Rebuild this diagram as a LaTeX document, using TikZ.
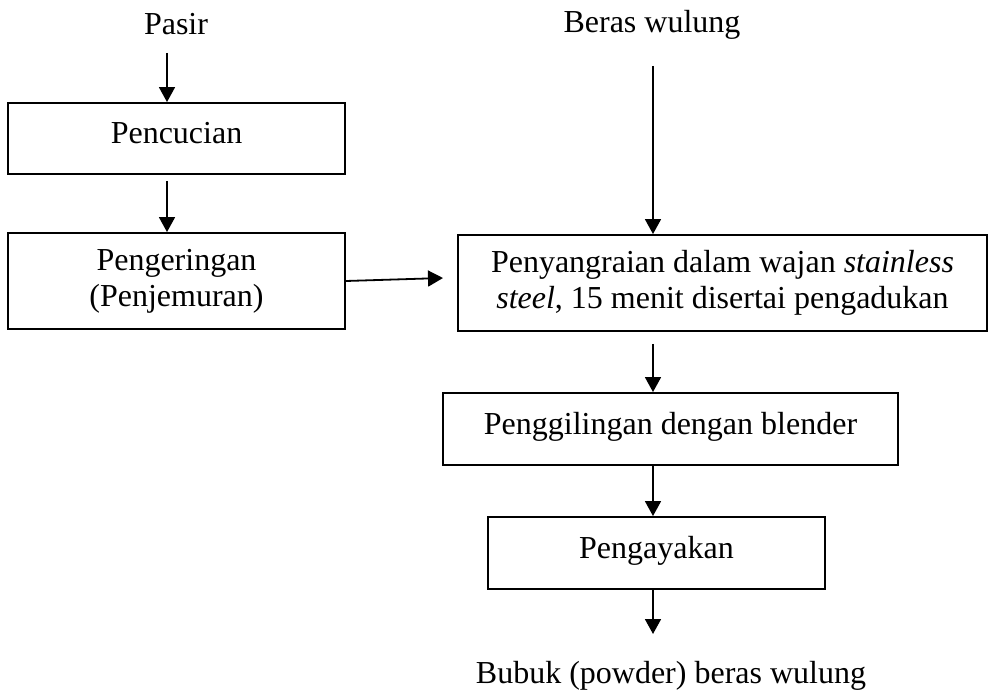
\documentclass[tikz,border=0pt]{standalone}
\usepackage{fontspec}
\setmainfont{Liberation Serif}
\usetikzlibrary{arrows.meta}
\begin{document}
\begin{tikzpicture}[x=1pt,y=-1pt,
  box/.style={draw=black,line width=1.9pt,rectangle,align=center,inner sep=0pt,
    font=\fontsize{32}{36}\selectfont},
  onebox/.style={box,text height=22pt,text depth=12pt},
  lbl/.style={anchor=base,inner sep=0pt,font=\fontsize{32}{36}\selectfont},
  arr/.style={line width=1.8pt,-{Triangle[length=15pt,width=16pt]}}]
\fill[white] (0,0) rectangle (989,695);
\useasboundingbox (0,0) rectangle (989,695);
% labels
\node[lbl] (pasir) at (176,35) {Pasir};
\node[lbl] (beras) at (652,33) {Beras wulung};
\node[lbl] (bubuk) at (671,683) {Bubuk (powder) beras wulung};
% boxes
\node[onebox,minimum width=337pt,minimum height=71pt] (cuci) at (176.5,138.5) {Pencucian};
\node[box,minimum width=337pt,minimum height=96pt] (kering) at (176.5,281) {Pengeringan\\(Penjemuran)};
\node[box,minimum width=529pt,minimum height=96pt] (sangrai) at (722.5,283) {Penyangraian dalam wajan \textit{stainless}\\\textit{steel}, 15 menit disertai pengadukan};
\node[onebox,minimum width=455pt,minimum height=72pt] (giling) at (670.5,429) {Penggilingan dengan blender};
\node[onebox,minimum width=337pt,minimum height=72pt] (ayak) at (656.5,553) {Pengayakan};
% arrow anchors
\coordinate (a1) at (167,53);
\coordinate (a2) at (167,181);
\coordinate (a3) at (443,278);
\coordinate (a4) at (653,66);
\coordinate (a5) at (653,344);
\coordinate (a6) at (653,634);
% arrows
\draw[arr] (a1) -- (a1 |- cuci.north);
\draw[arr] (a2) -- (a2 |- kering.north);
\draw[arr] (kering.east) -- (a3);
\draw[arr] (a4) -- (a4 |- sangrai.north);
\draw[arr] (a5) -- (a5 |- giling.north);
\draw[arr] (a5 |- giling.south) -- (a5 |- ayak.north);
\draw[arr] (a6 |- ayak.south) -- (a6);
\end{tikzpicture}
\end{document}
